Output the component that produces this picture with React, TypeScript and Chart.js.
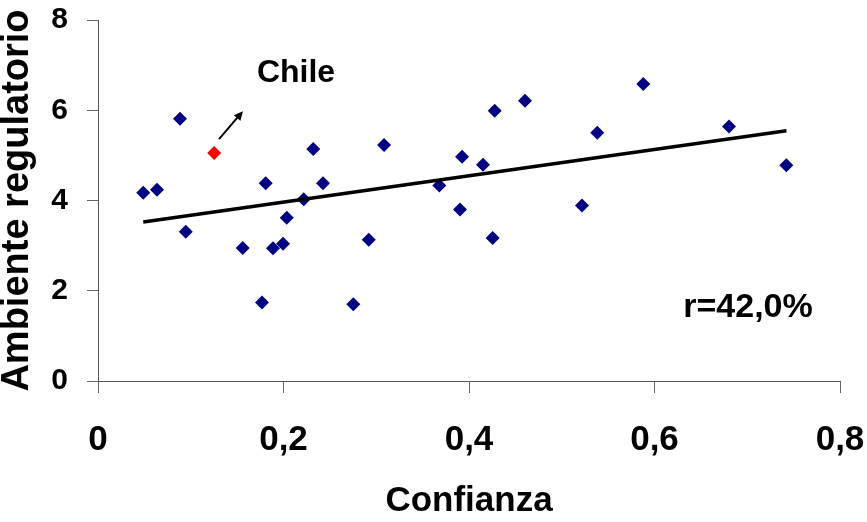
import React, { useEffect, useRef } from "react";
import { Chart, registerables } from "chart.js";

Chart.register(...registerables);

// Data (Confianza, Ambiente regulatorio)
const confianza = [
  0.0488, 0.0636, 0.0884, 0.0946, 0.1560, 0.1768, 0.1808, 0.1887, 0.1995, 0.2035,
  0.2218, 0.2321, 0.2426, 0.2753, 0.2919, 0.3084, 0.3680, 0.3903, 0.3925, 0.4151,
  0.4255, 0.4277, 0.4604, 0.5218, 0.5383, 0.5879, 0.6803, 0.7421,
];
const ambiente = [
  4.17, 4.24, 5.81, 3.31, 2.95, 1.74, 4.38, 2.94, 3.04, 3.62,
  4.03, 5.14, 4.38, 1.70, 3.13, 5.23, 4.33, 3.80, 4.97, 4.79,
  3.17, 5.99, 6.21, 3.89, 5.50, 6.58, 5.64, 4.78,
];
const chileX = [0.1253];
const chileY = [5.05];
const trendX = [0.0488, 0.7423];
const trendY = [3.524, 5.547];
const xTicks = [0, 0.2, 0.4, 0.6, 0.8];
const yTicks = [0, 2, 4, 6, 8];
const chileLabel = "Chile";
const rLabel = "r=42,0%";

const FONT = "'Liberation Sans', Arial, Helvetica, sans-serif";

const annotationPlugin = {
  id: "annotations",
  afterDatasetsDraw(chart: any) {
    const { ctx } = chart;
    const xs = chart.scales.x;
    const ys = chart.scales.y;
    ctx.save();
    ctx.fillStyle = "#000";
    ctx.strokeStyle = "#000";
    ctx.textAlign = "center";
    ctx.textBaseline = "middle";
    ctx.font = `bold 32px ${FONT}`;
    ctx.fillText(chileLabel, xs.getPixelForValue(0.2135), ys.getPixelForValue(6.83));
    ctx.font = `bold 34px ${FONT}`;
    ctx.fillText(rLabel, xs.getPixelForValue(0.7008), ys.getPixelForValue(1.62));
    // arrow
    const x1 = xs.getPixelForValue(0.1305);
    const y1 = ys.getPixelForValue(5.36);
    const x2 = xs.getPixelForValue(0.1563);
    const y2 = ys.getPixelForValue(5.98);
    const ang = Math.atan2(y2 - y1, x2 - x1);
    const head = 10;
    ctx.lineWidth = 2;
    ctx.beginPath();
    ctx.moveTo(x1, y1);
    ctx.lineTo(x2 - Math.cos(ang) * head * 0.7, y2 - Math.sin(ang) * head * 0.7);
    ctx.stroke();
    ctx.beginPath();
    ctx.moveTo(x2, y2);
    ctx.lineTo(x2 - head * Math.cos(ang - 0.45), y2 - head * Math.sin(ang - 0.45));
    ctx.lineTo(x2 - head * Math.cos(ang + 0.45), y2 - head * Math.sin(ang + 0.45));
    ctx.closePath();
    ctx.fill();
    ctx.restore();
  },
};

const fmtX = (v: number) => (v === 0 ? "0" : Number(v).toFixed(1).replace(".", ","));
const fmtY = (v: number) => String(Math.round(v));

export default function App() {
  const ref = useRef<HTMLCanvasElement>(null);
  useEffect(() => {
    if (!ref.current) return;
    const chart = new Chart(ref.current, {
      type: "scatter",
      data: {
        datasets: [
          {
            label: "Trend",
            type: "line",
            data: trendX.map((x, i) => ({ x, y: trendY[i] })),
            borderColor: "#000",
            borderWidth: 3.5,
            pointRadius: 0,
            showLine: true,
            fill: false,
            order: 1,
          } as any,
          {
            label: "Países",
            data: confianza.map((x, i) => ({ x, y: ambiente[i] })),
            backgroundColor: "#000080",
            borderColor: "#000080",
            pointStyle: "rectRot",
            pointRadius: 7,
            borderWidth: 0,
            order: 2,
          },
          {
            label: "Chile",
            data: chileX.map((x, i) => ({ x, y: chileY[i] })),
            backgroundColor: "#FF0000",
            borderColor: "#FF0000",
            pointStyle: "rectRot",
            pointRadius: 7,
            borderWidth: 0,
            order: 3,
          },
        ],
      },
      options: {
        responsive: false,
        animation: false,
        layout: { padding: { left: 0, right: 0, top: 20, bottom: 0 } },
        plugins: { legend: { display: false }, tooltip: { enabled: false } },
        scales: {
          x: {
            type: "linear",
            min: 0,
            max: 0.8,
            afterFit: (axis: any) => {
              axis.height = 141;
              axis.paddingLeft = 0;
              axis.paddingRight = 27;
            },
            afterBuildTicks: (axis: any) => {
              axis.ticks = xTicks.map((v) => ({ value: v }));
            },
            grid: { drawOnChartArea: false, drawTicks: true, tickLength: 12, color: "#666" },
            border: { display: true, color: "#555", width: 1 },
            ticks: {
              padding: 26,
              color: "#000",
              font: { family: FONT, size: 35, weight: "bold" },
              callback: (v: any) => fmtX(Number(v)),
              maxRotation: 0,
              autoSkip: false,
            },
            title: {
              display: true,
              text: "Confianza",
              color: "#000",
              font: { family: FONT, size: 35, weight: "bold", lineHeight: 1 },
              padding: { top: 0, bottom: 3 },
            },
          },
          y: {
            type: "linear",
            min: 0,
            max: 8,
            afterFit: (axis: any) => {
              axis.width = 98;
              axis.paddingTop = 0;
              axis.paddingBottom = 0;
            },
            afterBuildTicks: (axis: any) => {
              axis.ticks = yTicks.map((v) => ({ value: v }));
            },
            grid: { drawOnChartArea: false, drawTicks: true, tickLength: 11, color: "#666" },
            border: { display: true, color: "#555", width: 1 },
            ticks: {
              padding: 19,
              color: "#000",
              font: { family: FONT, size: 30, weight: "bold" },
              callback: (v: any) => fmtY(Number(v)),
              autoSkip: false,
            },
            title: {
              display: true,
              text: "Ambiente regulatorio",
              color: "#000",
              font: { family: FONT, size: 38, weight: "bold", lineHeight: 1 },
              padding: { top: -1, bottom: 0 },
            },
          },
        },
      },
      plugins: [annotationPlugin],
    });
    return () => chart.destroy();
  }, []);
  return (
    <div style={{ position: "absolute", left: 0, top: 0, width: 867, height: 522, background: "#fff" }}>
      <canvas ref={ref} width={867} height={522} style={{ display: "block" }} />
    </div>
  );
}
